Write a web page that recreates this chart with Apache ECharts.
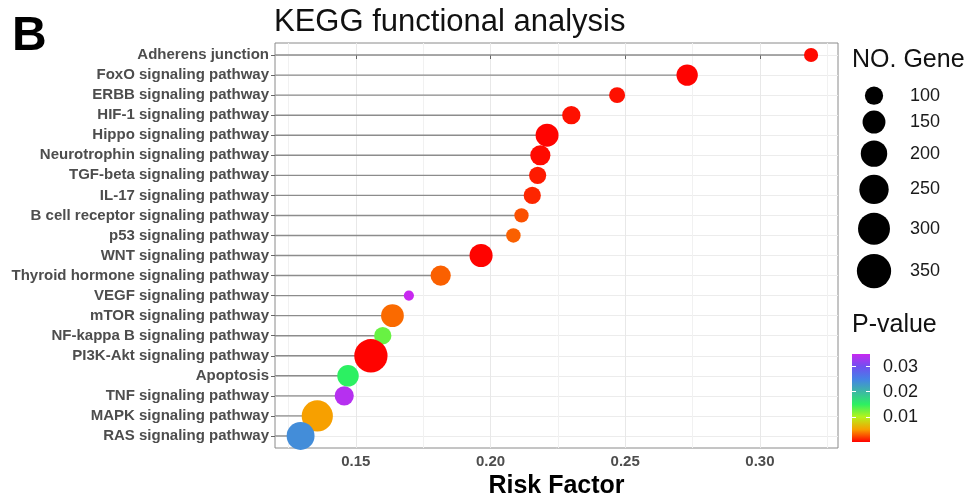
<!DOCTYPE html>
<html><head><meta charset="utf-8">
<script src="https://cdn.jsdelivr.net/npm/echarts@6/dist/echarts.min.js"></script>
<style>html,body{margin:0;padding:0;background:#fff}#c{width:971px;height:495px}</style>
</head><body><div id="c"></div>
<script>
// ---------------- data ----------------
const categories = [
  'Adherens junction', 'FoxO signaling pathway', 'ERBB signaling pathway',
  'HIF-1 signaling pathway', 'Hippo signaling pathway', 'Neurotrophin signaling pathway',
  'TGF-beta signaling pathway', 'IL-17 signaling pathway', 'B cell receptor signaling pathway',
  'p53 signaling pathway', 'WNT signaling pathway', 'Thyroid hormone signaling pathway',
  'VEGF signaling pathway', 'mTOR signaling pathway', 'NF-kappa B signaling pathway',
  'PI3K-Akt signaling pathway', 'Apoptosis', 'TNF signaling pathway',
  'MAPK signaling pathway', 'RAS signaling pathway'
];
const riskFactor = [0.319, 0.273, 0.247, 0.230, 0.221, 0.2185, 0.2175, 0.2155, 0.2115, 0.2085,
                    0.1965, 0.1815, 0.1697, 0.1636, 0.1600, 0.1556, 0.1471, 0.1457, 0.1357, 0.1295];
const geneCount  = [71, 131, 82, 100, 150, 118, 91, 91, 72, 73,
                    152, 119, 57, 148, 92, 328, 133, 108, 285, 224];
const pValue     = [0.0003, 0.0001, 0.0005, 0.0005, 0.0001, 0.0003, 0.0008, 0.0012, 0.0025, 0.0030,
                    0.0001, 0.0030, 0.0350, 0.0033, 0.0128, 0.0001, 0.0150, 0.0340, 0.0050, 0.0240];
const xTickLabels  = [0.15, 0.20, 0.25, 0.30];
const xMinorBreaks = [0.125, 0.175, 0.225, 0.275, 0.325];
const sizeBreaks   = [100, 150, 200, 250, 300, 350];
const pBreaks      = [0.01, 0.02, 0.03];
const pPalette = ['#FF0000', '#F7A000', '#B4F41C', '#2CF062', '#3CB8A4', '#4582E6', '#7050F0', '#C828F0'];
const P_MAX = 0.035;

// ---------------- scales ----------------
const X_MIN = 0.12, X_MAX = 0.329;
const D_MIN = 8, D_MAX = 34.3, N_LO = 55, N_HI = 350;
const sizeOf = n => D_MIN + (D_MAX - D_MIN) * Math.sqrt(Math.max(0, n - N_LO) / (N_HI - N_LO));
const KEY_FACTOR = 1.28;
const keyH = sizeBreaks.map(n => sizeOf(n) * KEY_FACTOR);
const keyCenters = [];
let acc = 0;
keyH.forEach(h => { keyCenters.push(acc + h / 2); acc += h; });
const keyTotal = acc;

const rowIdx = categories.map((_, i) => i);
const mainData = categories.map((c, i) => [riskFactor[i], i, geneCount[i], pValue[i]]);

const FONT = "'Liberation Sans', Arial, sans-serif";
const chart = echarts.init(document.getElementById('c'), null, {renderer: 'canvas'});

chart.setOption({
  animation: false,
  backgroundColor: '#ffffff',
  textStyle: {fontFamily: FONT},
  title: [
    {text: 'B', left: 12, top: 13, padding: 0,
     textStyle: {fontFamily: FONT, fontSize: 48, fontWeight: 'bold', color: '#000'}},
    {text: 'KEGG functional analysis', left: 274, top: 7, padding: 0,
     textStyle: {fontFamily: FONT, fontSize: 31, fontWeight: 'normal', color: '#111'}},
    {text: 'NO. Gene', left: 852, top: 48, padding: 0,
     textStyle: {fontFamily: FONT, fontSize: 25, fontWeight: 'normal', color: '#111'}},
    {text: 'P-value', left: 852, top: 313, padding: 0,
     textStyle: {fontFamily: FONT, fontSize: 25, fontWeight: 'normal', color: '#111'}}
  ],
  grid: [
    {left: 275, right: 133, top: 43, bottom: 47, outerBoundsMode: 'none', containLabel: false,
     show: true, borderColor: '#8a8a8a', borderWidth: 1, backgroundColor: 'transparent'},
    {left: 854, width: 40, top: 84, height: keyTotal, outerBoundsMode: 'none', containLabel: false, show: false},
    {left: 852, width: 18, top: 354, height: 88, outerBoundsMode: 'none', containLabel: false, show: false}
  ],
  xAxis: [
    {type: 'value', gridIndex: 0, min: X_MIN, max: X_MAX,
     name: 'Risk Factor', nameLocation: 'middle', nameGap: 19,
     nameTextStyle: {fontFamily: FONT, fontSize: 25, fontWeight: 'bold', color: '#000'},
     axisLine: {show: false},
     axisTick: {show: true, length: 4, lineStyle: {color: '#666'}, customValues: xTickLabels},
     axisLabel: {customValues: xTickLabels, formatter: v => v.toFixed(2), margin: 6,
                 fontFamily: FONT, fontSize: 15, fontWeight: 'bold', color: '#4d4d4d'},
     splitLine: {show: true, lineStyle: {color: '#e8e8e8', width: 1}}},
    {type: 'value', gridIndex: 0, min: X_MIN, max: X_MAX,
     axisLine: {show: false}, axisLabel: {show: false},
     axisTick: {show: false, customValues: xMinorBreaks},
     splitLine: {show: true, lineStyle: {color: '#f1f1f1', width: 1}}},
    {type: 'value', gridIndex: 1, min: 0, max: 1, show: false},
    {type: 'category', gridIndex: 2, data: ['p'], show: false}
  ],
  yAxis: [
    {type: 'value', gridIndex: 0, min: -0.6, max: categories.length - 1 + 0.6, inverse: true,
     axisLine: {show: false},
     axisTick: {show: true, length: 4, lineStyle: {color: '#666'}, customValues: rowIdx},
     axisLabel: {customValues: rowIdx, formatter: v => categories[Math.round(v)], margin: 6,
                 fontFamily: FONT, fontSize: 15, fontWeight: 'bold', color: '#4d4d4d'},
     splitLine: {show: true, lineStyle: {color: '#ececec', width: 1}}},
    {type: 'value', gridIndex: 1, min: 0, max: keyTotal, inverse: true, position: 'right',
     axisLine: {show: false}, axisTick: {show: false}, splitLine: {show: false},
     axisLabel: {customValues: keyCenters, margin: 16,
                 formatter: v => { const k = keyCenters.findIndex(c => Math.abs(c - v) < 1e-6); return k >= 0 ? String(sizeBreaks[k]) : ''; },
                 fontFamily: FONT, fontSize: 18, color: '#1a1a1a'}},
    {type: 'value', gridIndex: 2, min: 0, max: P_MAX, position: 'right', z: 10,
     axisLine: {show: false}, splitLine: {show: false},
     axisTick: {show: true, inside: true, length: 4, customValues: pBreaks, lineStyle: {color: '#ffffff', width: 1}},
     axisLabel: {customValues: pBreaks, formatter: v => v.toFixed(2), margin: 13,
                 fontFamily: FONT, fontSize: 18, color: '#1a1a1a'}},
    {type: 'value', gridIndex: 2, min: 0, max: P_MAX, position: 'left', z: 10,
     axisLine: {show: false}, splitLine: {show: false}, axisLabel: {show: false},
     axisTick: {show: true, inside: true, length: 4, customValues: pBreaks, lineStyle: {color: '#ffffff', width: 1}}}
  ],
  visualMap: [{
    show: false, type: 'continuous', seriesIndex: 1, dimension: 3,
    min: 0, max: P_MAX, inRange: {color: pPalette}
  }],
  series: [
    {type: 'custom', xAxisIndex: 0, yAxisIndex: 0, z: 2,
     data: riskFactor.map((r, i) => [r, i]),
     encode: {x: 0, y: 1},
     renderItem: (params, api) => {
       const p = api.coord([api.value(0), api.value(1)]);
       return {type: 'line',
               shape: {x1: params.coordSys.x, y1: p[1], x2: p[0], y2: p[1]},
               style: {stroke: '#8c8c8c', lineWidth: 1.4}};
     }},
    {type: 'scatter', xAxisIndex: 0, yAxisIndex: 0, z: 3,
     data: mainData,
     symbolSize: v => sizeOf(v[2]),
     itemStyle: {opacity: 1, borderWidth: 0},
     emphasis: {disabled: true}},
    {type: 'scatter', xAxisIndex: 2, yAxisIndex: 1,
     data: keyCenters.map(c => [0.5, c]),
     symbolSize: (v, params) => sizeOf(sizeBreaks[params.dataIndex]),
     itemStyle: {color: '#000', opacity: 1},
     emphasis: {disabled: true}},
    {type: 'bar', xAxisIndex: 3, yAxisIndex: 2, barWidth: '100%',
     data: [P_MAX],
     itemStyle: {color: new echarts.graphic.LinearGradient(0, 1, 0, 0,
        pPalette.map((c, i) => ({offset: i / (pPalette.length - 1), color: c})))},
     emphasis: {disabled: true}}
  ]
});
</script>
</body></html>
